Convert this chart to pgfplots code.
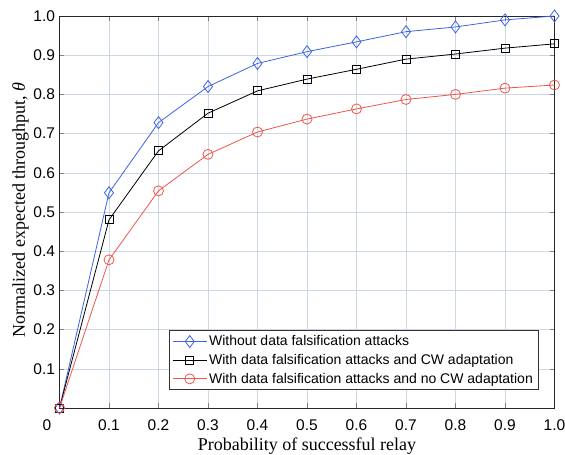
\documentclass[border=0pt]{standalone}
\usepackage{pgfplots}
\pgfplotsset{compat=1.18}
\usepackage{fontspec}
\setmainfont{Liberation Sans}
\newfontfamily\timesfont{Liberation Serif}
\definecolor{cblue}{RGB}{60,100,225}
\definecolor{cred}{RGB}{240,85,75}
\definecolor{gridc}{RGB}{205,215,232}
\begin{document}
\begin{tikzpicture}
\begin{axis}[
    scale only axis,
    width=495pt, height=392pt,
    xmin=0, xmax=1, ymin=0, ymax=1,
    xtick={0.1,0.2,...,1.0}, ytick={0.1,0.2,...,1.0},
    xticklabels={0.1,0.2,0.3,0.4,0.5,0.6,0.7,0.8,0.9,1.0},
    yticklabels={0.1,0.2,0.3,0.4,0.5,0.6,0.7,0.8,0.9,1.0},
    /pgf/number format/assume math mode=true,
    tick label style={font=\fontsize{15.5}{18}\selectfont},
    xticklabel style={yshift=-8pt},
    yticklabel style={xshift=-1pt},
    tick align=inside, tick pos=both,
    major tick length=5pt,
    grid=major,
    grid style={gridc, line width=0.5pt},
    axis line style={line width=0.7pt, black!85},
    xlabel={\timesfont Probability of successful relay},
    ylabel={\timesfont Normalized expected throughput, \textit{θ}},
    label style={font=\fontsize{18}{20}\selectfont},
    xlabel style={at={(axis description cs:0.5,0)}, anchor=base, yshift=-42pt},
    ylabel style={at={(axis description cs:-0.0697,0.505)}, anchor=base},
    legend cell align=left,
    legend style={at={(0.967,0.046)}, anchor=south east,
        font=\fontsize{14}{16}\selectfont, draw=black!80, line width=0.6pt,
        row sep=3pt, inner sep=3pt},
    legend image code/.code={\draw[mark repeat=2, mark phase=2] plot coordinates {(0pt,0pt) (17pt,0pt) (34pt,0pt)};},
]
\addplot[cblue, line width=0.8pt, mark=diamond, mark size=6pt] coordinates {
    (0,0) (0.1,0.549) (0.2,0.728) (0.3,0.820) (0.4,0.879) (0.5,0.909)
    (0.6,0.934) (0.7,0.960) (0.8,0.972) (0.9,0.990) (1.0,1.000)
};
\addlegendentry{Without data falsification attacks}
\addplot[black, line width=0.8pt, mark=square, mark size=4pt] coordinates {
    (0,0) (0.1,0.480) (0.2,0.656) (0.3,0.752) (0.4,0.809) (0.5,0.839)
    (0.6,0.864) (0.7,0.890) (0.8,0.903) (0.9,0.918) (1.0,0.929)
};
\addlegendentry{With data falsification attacks and CW adaptation}
\addplot[cred, line width=0.8pt, mark=o, mark size=5pt] coordinates {
    (0,0) (0.1,0.378) (0.2,0.554) (0.3,0.647) (0.4,0.704) (0.5,0.737)
    (0.6,0.763) (0.7,0.787) (0.8,0.800) (0.9,0.816) (1.0,0.824)
};
\addlegendentry{With data falsification attacks and no CW adaptation}
\end{axis}
\node[font=\fontsize{15.5}{18}\selectfont] at ([xshift=-12.5pt,yshift=-17pt]current axis.south west) {0};
\pgfresetboundingbox
\path ([xshift=-59.5pt,yshift=-47pt]current axis.south west) rectangle ++(565pt,455pt);
\end{tikzpicture}
\end{document}
